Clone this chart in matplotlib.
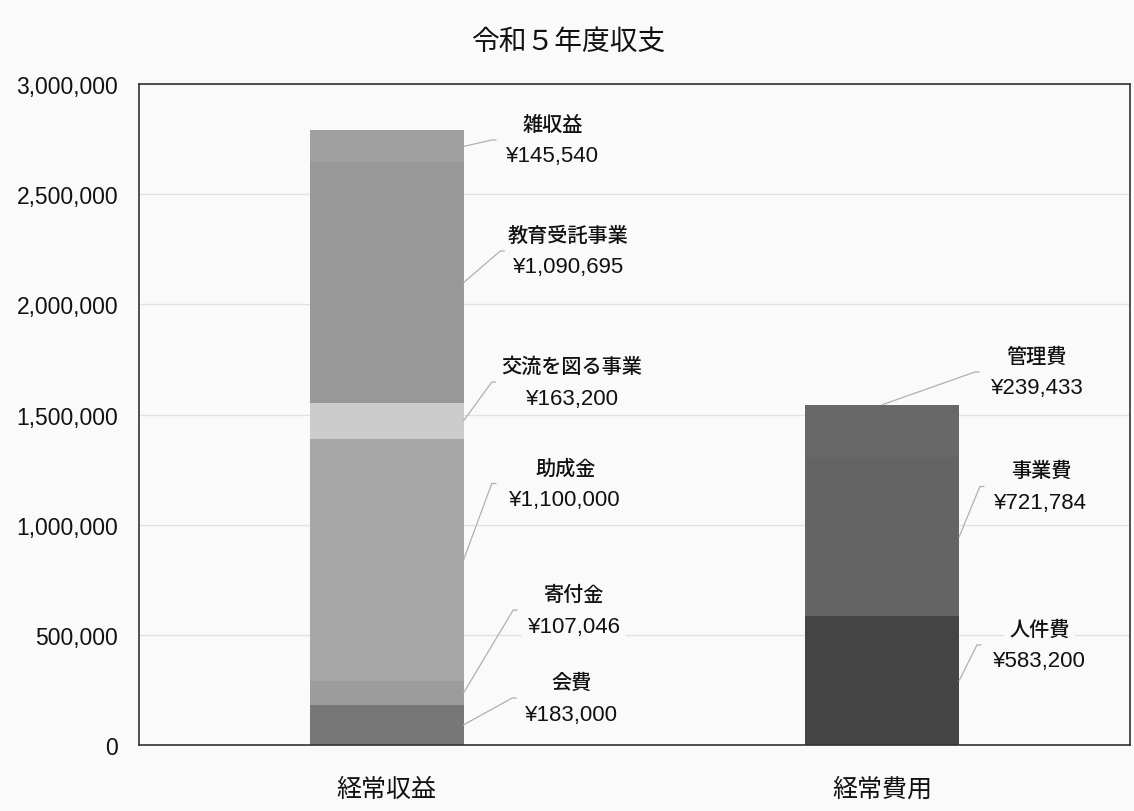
import matplotlib.pyplot as plt
from matplotlib.ticker import FuncFormatter

plt.rcParams['font.family'] = ['Noto Sans CJK JP', 'DejaVu Sans']
num_font = ['Liberation Sans', 'Noto Sans CJK JP']

# --- Data ---
categories = ["経常収益", "経常費用"]
income_items = ["会費", "寄付金", "助成金", "交流を図る事業", "教育受託事業", "雑収益"]
income_values = [183000, 107046, 1100000, 163200, 1090695, 145540]
expense_items = ["人件費", "事業費", "管理費"]
expense_values = [583200, 721784, 239433]

# --- Style / layout ---
income_colors = ["#777777", "#9c9c9c", "#a6a6a6", "#cccccc", "#989898", "#a0a0a0"]
expense_colors = ["#444444", "#646464", "#686868"]
# label centre (x, y) and elbow x for every segment
income_labels_xy = [(0.372, 213000), (0.378, 612000), (0.360, 1187000),
                    (0.374, 1647000), (0.366, 2242000), (0.335, 2746000)]
income_elbow_x = [0.253, 0.255, 0.212, 0.212, 0.229, 0.212]
expense_labels_xy = [(1.317, 454000), (1.320, 1173000), (1.312, 1693000)]
expense_elbow_x = [1.191, 1.197, 1.187]
bar_width = 0.31
bg = "#fafafa"

fig = plt.figure(figsize=(11.34, 8.12), dpi=100, facecolor=bg)
ax = fig.add_axes([0.1226, 0.0813, 0.8739, 0.814], facecolor=bg)


def stack(x, values, colors, names, labels_xy, elbow_x, top_anchor=False):
    bottom = 0
    n = len(values)
    for i, (v, c, name) in enumerate(zip(values, colors, names)):
        ax.bar(x, v, bottom=bottom, width=bar_width, color=c, edgecolor="none", zorder=2)
        if top_anchor and i == n - 1:
            ax_x, ax_y = x, bottom + v
        else:
            ax_x, ax_y = x + bar_width / 2, bottom + v / 2
        lx, ly = labels_xy[i]
        ex = elbow_x[i]
        ax.plot([ax_x, ex, ex + 0.008], [ax_y, ly, ly], color="#b0b0b0", lw=0.9, zorder=2.5)
        box = dict(facecolor=bg, edgecolor="none", pad=4)
        ax.annotate(name, (lx, ly), xytext=(0, 11.5), textcoords="offset points",
                    ha="center", va="center", fontsize=14.5, fontweight="medium",
                    color="#111111", zorder=4, bbox=box)
        ax.annotate(f"¥{v:,}", (lx, ly), xytext=(0, -11.5), textcoords="offset points",
                    ha="center", va="center", fontsize=16, color="#111111", zorder=4,
                    family=num_font, bbox=box)
        bottom += v


stack(0, income_values, income_colors, income_items, income_labels_xy, income_elbow_x)
stack(1, expense_values, expense_colors, expense_items, expense_labels_xy, expense_elbow_x,
      top_anchor=True)

ax.set_xlim(-0.5, 1.5)
ax.set_ylim(0, 3000000)
ax.set_xticks([0, 1])
ax.set_xticklabels(categories, fontsize=18)
ax.set_yticks(range(0, 3000001, 500000))
ax.yaxis.set_major_formatter(FuncFormatter(lambda v, p: f"{int(v):,}"))
for t in ax.get_yticklabels():
    t.set_family(num_font)
ax.tick_params(axis="y", length=0, pad=15, labelsize=16.5, labelcolor="#111111")
ax.tick_params(axis="x", length=0, pad=22, labelcolor="#111111")
ax.grid(axis="y", color="#e2e2e2", lw=1, zorder=0)
ax.set_axisbelow(True)
for s in ax.spines.values():
    s.set_color("#333333")
    s.set_linewidth(1.2)

fig.text(0.501, 0.948, "令和５年度収支", ha="center", va="center", fontsize=20, color="#111111")

fig.savefig("out.png", dpi=100, facecolor=bg)
